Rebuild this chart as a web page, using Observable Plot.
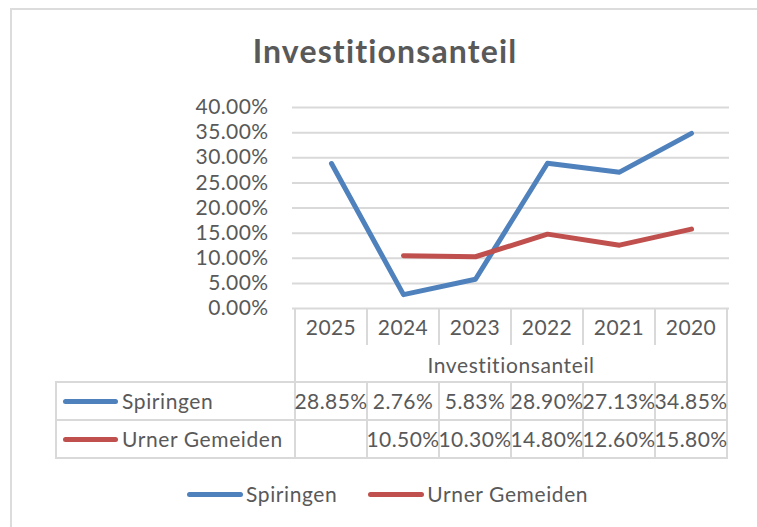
<!DOCTYPE html>
<html>
<head>
<meta charset="utf-8">
<script src="https://cdn.jsdelivr.net/npm/d3@7"></script>
<script src="https://cdn.jsdelivr.net/npm/@observablehq/plot@0.6"></script>
<style>
  html, body { margin: 0; padding: 0; background: #fff; }
  #wrap { position: relative; width: 757px; height: 527px; overflow: hidden; background: #fff; font-family: Lato, "Open Sans", sans-serif; color: #595959; }
  .abs { position: absolute; }
  .ln { position: absolute; background: #d9d9d9; }
  .txt { position: absolute; white-space: nowrap; font-size: 21px; line-height: 24px; height: 24px; }
</style>
</head>
<body>
<div id="wrap"></div>
<script>
// ---- data ----
const title = "Investitionsanteil";
const groupLabel = "Investitionsanteil";
const years = ["2025", "2024", "2023", "2022", "2021", "2020"];
const seriesNames = ["Spiringen", "Urner Gemeiden"];
const seriesColors = ["#4F81BD", "#C0504D"];
const spiringen = [0.2885, 0.0276, 0.0583, 0.2890, 0.2713, 0.3485];
const urner = [null, 0.1050, 0.1030, 0.1480, 0.1260, 0.1580];
const yTicks = [0, 0.05, 0.10, 0.15, 0.20, 0.25, 0.30, 0.35, 0.40];

const seriesValues = [spiringen, urner];
const rows = [];
seriesNames.forEach((s, k) => years.forEach((y, i) => {
  if (seriesValues[k][i] != null) rows.push({year: y, series: s, value: seriesValues[k][i]});
}));
const fmt = d3.format(".2%");

const wrap = document.getElementById("wrap");
function el(cls, css, text) {
  const d = document.createElement("div");
  d.className = cls;
  Object.assign(d.style, css);
  if (text != null) d.textContent = text;
  wrap.appendChild(d);
  return d;
}

// chart frame (top & left border visible)
el("abs", {left: "10px", top: "8px", width: "800px", height: "600px", borderLeft: "2px solid #dcdcdc", borderTop: "2px solid #dcdcdc", boxSizing: "border-box"});

// title
el("abs", {left: "0px", width: "770px", top: "35px", textAlign: "center", fontSize: "32px", lineHeight: "32px", fontWeight: "bold", letterSpacing: "1.15px", color: "#595959"}, title);

// ---- plot ----
const svgTop = 90;
const chart = Plot.plot({
  width: 757,
  height: 222,
  marginLeft: 292,
  marginRight: 28,
  marginTop: 17,
  marginBottom: 4,
  style: {fontFamily: "Lato, 'Open Sans', sans-serif", background: "transparent", overflow: "visible", color: "#595959", letterSpacing: "0.4px"},
  x: {type: "point", domain: years, padding: 0.5, axis: null},
  y: {domain: [0, 0.4], axis: null},
  color: {domain: seriesNames, range: seriesColors},
  marks: [
    Plot.gridY(yTicks, {stroke: "#d9d9d9", strokeOpacity: 1, strokeWidth: 2}),
    Plot.axisY(yTicks, {tickFormat: fmt, tickSize: 0, tickPadding: 24, fontSize: 21, color: "#595959", fill: "#595959", label: null}),
    Plot.line(rows, {x: "year", y: "value", z: "series", stroke: "series", strokeWidth: 5, strokeLinecap: "round", strokeLinejoin: "round"})
  ]
});
const holder = el("abs", {left: "0px", top: svgTop + "px"});
holder.appendChild(chart);

// ---- data table (positions derived from the plot's scales) ----
const xs = chart.scale("x");
const ys = chart.scale("y");
const cx = years.map(y => xs.apply(y));
const step = cx[1] - cx[0];
const colLeft = cx[0] - step / 2;
const colRight = cx[cx.length - 1] + step / 2;
const t0 = svgTop + ys.apply(0);
const tableLeft = 56;
const lw = 2;

function hline(x1, x2, y) { el("ln", {left: x1 + "px", top: (y - lw / 2) + "px", width: (x2 - x1) + "px", height: lw + "px"}); }
function vline(x, y1, y2) { el("ln", {left: (x - lw / 2) + "px", top: y1 + "px", width: lw + "px", height: (y2 - y1) + "px"}); }
function ctext(s, x, y, ls) { el("txt", {left: (x - 150) + "px", width: "300px", textAlign: "center", top: (y - 12) + "px", letterSpacing: ls || "0.4px"}, s); }
function ltext(s, x, y) { el("txt", {left: x + "px", top: (y - 12) + "px", letterSpacing: "0.6px"}, s); }

const rowYear = t0 + 19, sepEnd = t0 + 37, rowGroup = t0 + 57;
const line1 = t0 + 74, rowA = t0 + 93, line2 = t0 + 112, rowB = t0 + 131, line3 = t0 + 150;

// year header
years.forEach((y, i) => ctext(y, cx[i], rowYear));
for (let i = 1; i < years.length; i++) vline(cx[i] - step / 2, t0, sepEnd);
vline(colLeft, t0, line3);
vline(colRight, t0, line3);
ctext(groupLabel, (colLeft + colRight) / 2, rowGroup, "0.6px");
// horizontal lines
hline(tableLeft - 1, colRight + 1, line1);
hline(tableLeft - 1, colRight + 1, line2);
hline(tableLeft - 1, colRight + 1, line3);
vline(tableLeft, line1, line3);
// value rows
for (let i = 1; i < years.length; i++) vline(cx[i] - step / 2, line1, line3);
[rowA, rowB].forEach((ry, k) => {
  el("abs", {left: "63px", top: (ry - 2.5) + "px", width: "55px", height: "5px", borderRadius: "3px", background: seriesColors[k]});
  ltext(seriesNames[k], 122, ry);
  seriesValues[k].forEach((v, i) => { if (v != null) ctext(fmt(v), cx[i], ry); });
});

// ---- legend ----
const leg = el("abs", {left: "187px", top: "482px", height: "24px", display: "flex", alignItems: "center", fontSize: "21px", lineHeight: "24px", letterSpacing: "0.6px", whiteSpace: "nowrap"});
seriesNames.forEach((s, k) => {
  const key = document.createElement("div");
  Object.assign(key.style, {width: "56px", height: "5px", borderRadius: "3px", background: seriesColors[k], marginRight: "3px"});
  const lab = document.createElement("div");
  lab.textContent = s;
  lab.style.marginRight = k === 0 ? "31px" : "0px";
  leg.appendChild(key);
  leg.appendChild(lab);
});
</script>
</body>
</html>
